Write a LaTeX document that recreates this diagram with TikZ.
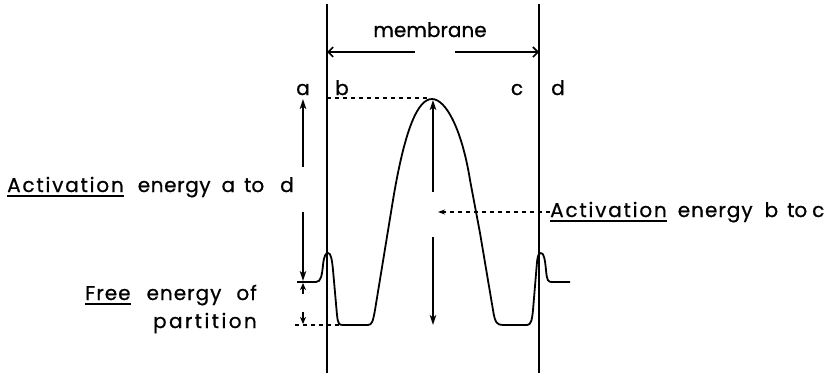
\documentclass[tikz,border=0pt]{standalone}
\usepackage{fontspec}
\setmainfont{Poppins}[FakeBold=0.7]
\usetikzlibrary{arrows.meta}
\newcommand\lsp[1]{\addfontfeature{LetterSpace=#1}}
\newcommand\myul[1]{\setbox0\hbox{#1}\rlap{\rule[-4.5pt]{\wd0}{1.4pt}}\box0}
\tikzset{
  wall/.style={line width=1.7pt},
  curve/.style={line width=1.8pt, line join=round},
  arr/.style={line width=1.6pt, -{Stealth[length=10pt,width=6.5pt,inset=2.5pt]}},
  barb/.style={line width=1.6pt, -{Straight Barb[length=5pt,width=10pt]}},
  guide/.style={line width=1.2pt, dash pattern=on 4pt off 4pt},
  lbl/.style={inner sep=0pt, font=\fontsize{20}{24}\selectfont},
}
\begin{document}
\begin{tikzpicture}[x=1pt,y=-1pt]
\useasboundingbox (0,0) rectangle (834,373);
% membrane walls
\coordinate (lt) at (327,4);
\coordinate (lb) at (327,373);
\coordinate (rt) at (539,4);
\coordinate (rb) at (539,373);
\draw[wall] (lt) -- (lb);
\draw[wall] (rt) -- (rb);
% membrane label and arrows
\node[lbl, anchor=base] (mem) at (430,37) {membrane};
\coordinate (ml) at (327,52);
\coordinate (mr) at (539,52);
\coordinate (mla) at (415,52);
\coordinate (mra) at (455,52);
\draw[barb] (mla) -- (ml);
\draw[barb] (mra) -- (mr);
% letters
\node[lbl, anchor=base] (la) at (303,95) {a};
\node[lbl, anchor=base] (lbb) at (342,95) {b};
\node[lbl, anchor=base] (lc) at (517,95) {c};
\node[lbl, anchor=base] (ld) at (558,95) {d};
% energy profile
\draw[curve] (297,282) -- (316,282) .. controls (321,282) and (322,275) .. (323,265)
  .. controls (324,255) and (326,253) .. (328,253)
  .. controls (331,253) and (332,260) .. (333,270)
  -- (337,315) .. controls (338,324) and (339,325) .. (343,325)
  -- (368,325) .. controls (372,325) and (373,321) .. (375,310)
  -- (393,200) .. controls (405,128) and (418,99) .. (432,99)
  .. controls (446,99) and (462,130) .. (470,180)
  -- (480,233) -- (493,310) .. controls (495,323) and (497,325) .. (503,325)
  -- (527,325) .. controls (531,325) and (532,320) .. (533,310)
  -- (537,262) .. controls (538,254) and (539,253) .. (541,253)
  .. controls (544,253) and (545,260) .. (546,270)
  .. controls (547,281) and (548,282) .. (552,282) -- (570,282);
% dashed guide lines
\coordinate (pk) at (428,98);
\coordinate (pkl) at (327,98);
\draw[guide] (pkl) -- (pk);
\coordinate (bl) at (295,325);
\coordinate (br) at (340,325);
\draw[guide] (bl) -- (br);
% left arrows (activation a to d)
\coordinate (a1s) at (303,167);
\coordinate (a1e) at (303,99);
\coordinate (a2s) at (303,212);
\coordinate (a2e) at (303,281);
\draw[arr] (a1s) -- (a1e);
\draw[arr] (a2s) -- (a2e);
% free energy arrows
\coordinate (f1s) at (303,294);
\coordinate (f1e) at (303,283);
\coordinate (f2s) at (303,312);
\coordinate (f2e) at (303,324);
\draw[line width=1.4pt, -{Stealth[length=7pt,width=6pt,inset=2pt]}] (f1s) -- (f1e);
\draw[line width=1.4pt, -{Stealth[length=7pt,width=6pt,inset=2pt]}] (f2s) -- (f2e);
% central arrows (activation b to c)
\coordinate (c1s) at (433,192);
\coordinate (c1e) at (433,100);
\coordinate (c2s) at (433,237);
\coordinate (c2e) at (433,325);
\draw[arr] (c1s) -- (c1e);
\draw[arr] (c2s) -- (c2e);
% labels
\node[lbl, anchor=base west] (actbc) at (550,217)
  {\myul{\lsp{9}Activation}\hspace{11pt}{\lsp{5}energy}\hspace{12pt}b\hspace{9pt}to\hspace{5pt}c};
\coordinate (dtip) at (438,212);
\draw[guide, -{Stealth[length=7pt,width=5pt]}] (actbc.west |- dtip) -- (dtip);
\node[lbl, anchor=base west] (actad) at (7,192)
  {\myul{\lsp{9}Activation}\hspace{14pt}{\lsp{3}energy}\hspace{11pt}a\hspace{9pt}to\hspace{16pt}d};
\node[lbl, anchor=base east] (free1) at (257,300)
  {\myul{\lsp{5}Free}\hspace{16pt}{\lsp{5}energy}\hspace{15pt}{\lsp{5}of}};
\node[lbl, anchor=base east] (free2) at (257,328) {\lsp{12}partition};
\end{tikzpicture}
\end{document}
